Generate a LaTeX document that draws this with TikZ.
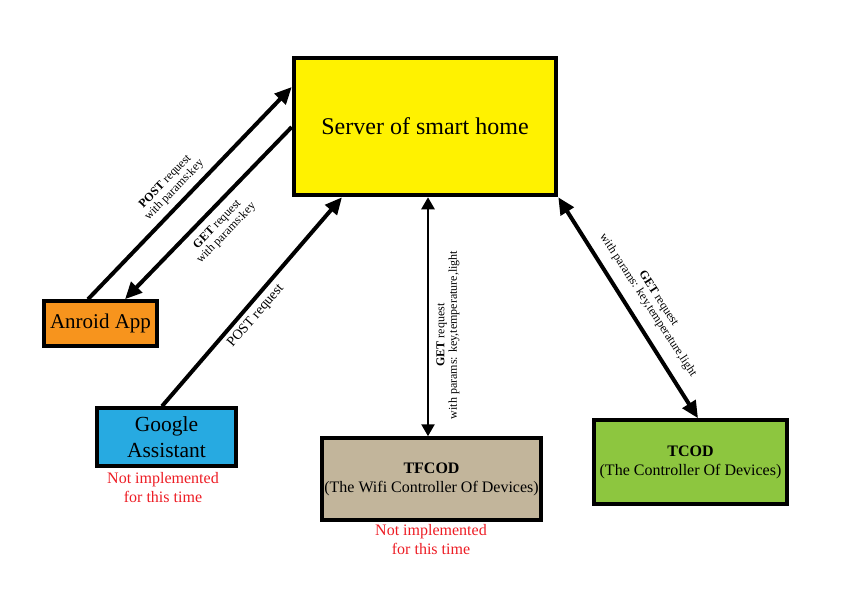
\documentclass[tikz,border=0pt]{standalone}
\usepackage{fontspec}
\setmainfont{Liberation Serif}
\usetikzlibrary{arrows.meta}
\definecolor{srvyellow}{HTML}{FFF200}
\definecolor{andorange}{HTML}{F7941D}
\definecolor{gablue}{HTML}{27AAE1}
\definecolor{tftan}{HTML}{C2B59B}
\definecolor{tcgreen}{HTML}{8DC63F}
\definecolor{notered}{HTML}{ED1C24}
\begin{document}
\begin{tikzpicture}[x=1bp,y=-1bp,
  box/.style={draw=black, line width=3.5bp, rectangle, inner sep=0pt, align=center, text=black},
  conn/.style={line width=4bp, -{Triangle[length=17bp,width=15bp]}},
  dconn/.style={line width=4bp, {Triangle[length=17bp,width=15bp]}-{Triangle[length=17bp,width=15bp]}},
  thinconn/.style={line width=2.5bp, {Triangle[length=12bp,width=13bp]}-{Triangle[length=12bp,width=13bp]}},
  lbl/.style={align=center, inner sep=0pt, font=\fontsize{12bp}{12.5bp}\selectfont},
  note/.style={align=center, inner sep=0pt, text=notered, font=\fontsize{16bp}{19bp}\selectfont}
]
\useasboundingbox (0,0) rectangle (842,595);

\node[box, line width=4.5bp, fill=srvyellow, minimum width=262bp, minimum height=137bp,
  font=\fontsize{24bp}{28bp}\selectfont] (srv) at (425,126.5) {Server of smart home};
\node[box, fill=andorange, minimum width=113bp, minimum height=45bp,
  font=\fontsize{21bp}{25bp}\selectfont] (and) at (100.5,323.5) {Anroid App};
\node[box, fill=gablue, minimum width=139bp, minimum height=58bp,
  font=\fontsize{21.5bp}{26bp}\selectfont] (ga) at (166.5,437) {Google\\Assistant};
\node[box, fill=tftan, minimum width=219bp, minimum height=82bp,
  font=\fontsize{16bp}{19bp}\selectfont] (tf) at (431.5,479) {\textbf{TFCOD}\\(The Wifi Controller Of Devices)};
\node[box, fill=tcgreen, minimum width=193bp, minimum height=84bp,
  font=\fontsize{16bp}{19bp}\selectfont] (tc) at (690.5,462) {\textbf{TCOD}\\(The Controller Of Devices)};

\node[note] (gan) at (163,488) {Not implemented\\for this time};
\node[note] (tfn) at (431,540) {Not implemented\\for this time};

\draw[conn] (88,0 |- and.north) -- (srv.west |- 0,87);
\draw[conn] (srv.west |- 0,127) -- (125,0 |- and.north);
\draw[conn] (162,0 |- ga.north) -- (342,0 |- srv.south);
\draw[thinconn] (428,0 |- srv.south) -- (428,0 |- tf.north);
\draw[dconn] (srv.south east) -- (698,0 |- tc.north);

\node[lbl, rotate=46] (l1) at (170,186) {\textbf{POST} request\\with params:key};
\node[lbl, rotate=46] (l2) at (222,229) {\textbf{GET} request\\with params:key};
\node[lbl, rotate=49, font=\fontsize{14bp}{16bp}\selectfont] (l3) at (256,316) {POST request};
\node[lbl, rotate=90] (l4) at (448,335) {\textbf{GET} request\\with params: key,temperature,light};
\node[lbl, rotate=-57] (l5) at (653,302) {\textbf{GET} request\\with params: key,temperature,light};
\end{tikzpicture}
\end{document}
